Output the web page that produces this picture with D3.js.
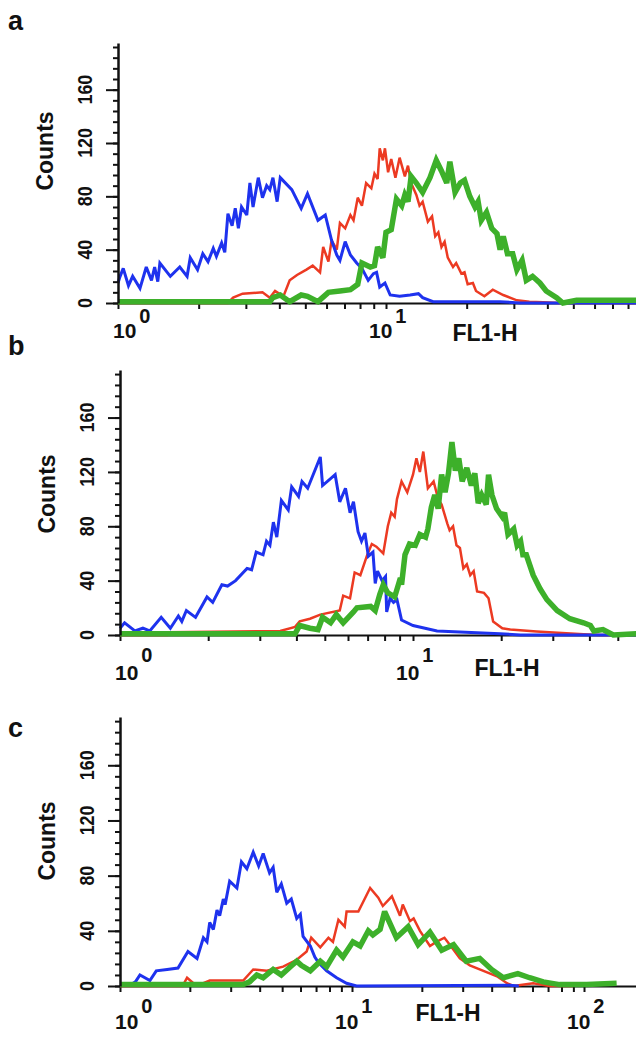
<!DOCTYPE html>
<html lang="en">
<head>
<meta charset="utf-8">
<title>FL1-H histograms</title>
<script src="https://d3js.org/d3.v7.min.js"></script>
<style>
  body { margin: 0; background: #fff; }
  svg text { font-family: "Liberation Sans", Arial, sans-serif; font-weight: bold; fill: #111; }
</style>
</head>
<body>
<svg id="chart"></svg>
<script>
// traces: [channel (256 channels per decade), counts]
var aBlue = [[0,15],[2,20],[5,26],[10,13],[14,20],[21,11],[27,27],[32,17],[35,27],[38,16],[40,30],[50,20],[59,27],[66,20],[69,34],[76,25],[81,37],[86,31],[91,41],[94,35],[99,45],[102,38],[105,67],[109,58],[112,71],[115,56],[118,72],[123,66],[126,90],[129,72],[134,94],[138,79],[142,88],[145,85],[148,94],[152,76],[155,94],[166,85],[175,71],[181,82],[191,62],[198,66],[204,47],[209,36],[212,32],[217,46],[222,36],[228,30],[233,26],[239,17],[244,22],[247,23],[250,12],[255,15],[260,6],[269,5],[279,6],[287,7],[291,4],[301,1],[365,1],[384,0],[495,0]];
var aRed = [[0,0],[105,0],[110,4],[119,7],[138,8],[145,4],[150,9],[158,5],[164,17],[171,21],[180,25],[186,28],[193,23],[196,42],[201,31],[204,47],[209,40],[212,60],[217,56],[222,66],[225,62],[229,79],[233,73],[237,90],[242,86],[245,97],[248,93],[250,116],[253,107],[255,116],[258,98],[261,108],[265,94],[269,109],[274,95],[277,103],[280,90],[285,81],[288,73],[291,76],[296,61],[300,65],[303,50],[306,53],[309,42],[312,46],[315,34],[320,27],[323,30],[328,22],[331,23],[334,14],[339,15],[342,9],[350,5],[358,10],[368,6],[381,2],[393,1],[406,0.5],[422,0],[495,0]];
var aGreen = [[0,1],[145,1],[148,4],[155,6],[164,1],[175,6],[181,5],[191,1],[201,8],[212,9],[222,10],[229,14],[233,30],[241,27],[245,28],[248,42],[253,34],[256,53],[261,55],[266,78],[271,73],[274,81],[277,76],[280,95],[285,90],[291,83],[298,94],[304,107],[309,99],[314,90],[317,106],[322,83],[327,90],[331,92],[336,80],[341,72],[344,76],[347,62],[352,68],[357,56],[362,52],[365,40],[368,50],[372,37],[377,37],[381,25],[386,32],[390,17],[396,20],[403,15],[409,9],[419,4],[425,0],[438,2],[495,2]];

var bBlue = [[0,5],[4,9],[13,3],[20,5],[26,3],[36,13],[44,5],[51,14],[54,10],[58,18],[66,13],[76,28],[81,24],[89,37],[94,36],[101,40],[111,49],[115,48],[119,61],[125,59],[128,69],[131,66],[134,83],[137,72],[141,99],[147,92],[150,109],[156,102],[159,113],[164,108],[175,131],[177,110],[188,118],[192,98],[197,108],[201,90],[204,98],[208,76],[211,69],[214,75],[217,58],[221,61],[223,38],[225,47],[229,40],[232,43],[233,17],[236,27],[239,24],[242,26],[246,11],[256,7],[277,3],[332,1],[350,0],[451,0]];
var bRed = [[0,0],[41,0],[42,2],[140,3],[153,6],[157,10],[166,12],[175,15],[192,18],[195,29],[201,27],[205,46],[210,44],[216,59],[220,67],[224,65],[230,60],[234,80],[237,90],[240,87],[242,100],[246,113],[251,105],[256,118],[259,130],[262,120],[265,135],[269,108],[274,113],[278,100],[281,96],[286,82],[288,77],[291,80],[294,66],[297,64],[300,49],[303,52],[306,44],[309,47],[312,32],[318,31],[322,27],[326,10],[334,5],[341,4],[364,2.5],[405,0.5],[420,0],[451,0]];
var bGreen = [[0,1],[153,1],[157,7],[166,5],[173,4],[177,13],[184,9],[189,15],[195,9],[204,17],[207,20],[219,21],[223,18],[227,30],[230,37],[234,31],[240,28],[245,42],[246,37],[249,59],[253,67],[258,66],[262,74],[267,72],[269,78],[272,94],[275,103],[278,93],[281,118],[284,105],[287,119],[290,142],[293,121],[296,130],[299,113],[303,123],[307,110],[310,119],[313,97],[316,103],[320,96],[322,118],[325,103],[329,93],[334,87],[336,90],[339,74],[344,78],[347,66],[350,69],[352,59],[355,59],[361,44],[367,34],[373,26],[382,18],[393,12],[405,9],[411,7],[414,3],[422,4],[431,0],[451,1]];

var cBlue = [[0,0.5],[11,0.5],[17,3],[22,8],[33,4],[40,11],[52,12],[64,13],[75,25],[85,20],[92,35],[96,32],[99,46],[103,41],[107,55],[110,51],[114,63],[116,59],[121,76],[129,71],[134,90],[140,85],[147,97],[153,87],[158,96],[165,82],[169,86],[173,68],[178,74],[184,60],[189,63],[195,49],[199,52],[202,36],[210,29],[215,21],[219,17],[228,11],[239,6],[250,2],[261,0],[430,0.5],[440,0]];
var cRed = [[0,0],[69,0],[74,6],[81,2],[92,2],[99,4],[136,4],[147,12],[162,11],[180,14],[195,19],[206,25],[211,35],[221,28],[230,35],[235,32],[241,48],[248,43],[250,54],[263,54],[276,71],[285,64],[290,58],[300,65],[309,51],[312,59],[320,47],[324,49],[331,40],[342,29],[349,32],[358,35],[366,28],[375,20],[386,15],[401,11],[416,7],[427,2],[434,0],[456,2],[474,0],[500,0]];
var cGreen = [[0,1],[136,1],[143,3],[151,8],[158,6],[169,12],[178,8],[188,14],[195,18],[200,15],[210,11],[221,18],[228,14],[239,26],[246,21],[257,32],[265,29],[274,40],[279,37],[287,41],[292,54],[305,35],[318,43],[329,30],[342,39],[355,26],[368,30],[382,18],[397,20],[410,12],[423,6],[439,9],[452,6],[467,3],[485,1],[515,1],[548,2]];

var panelNames = ["a","b","c"];
var yMajor = [0,40,80,120,160];
var yTop = 195;
var yMinorStep = 8;

var width = 636, height = 1038;
var colors = {red:"#ec3a22", blue:"#1e32ee", green:"#3db02a"};
var strokes = {red:2.5, blue:3, green:5.5};

// layout of the three stacked panels
var panels = [
	{x0:118, decade:268, top:43,  bottom:303, traces:{red:aRed, blue:aBlue, green:aGreen},
	 letterY:30,  countsY:151, tenDy:35, supDy:20, flX:485, flY:341},
	{x0:120, decade:293, top:370, bottom:635, traces:{red:bRed, blue:bBlue, green:bGreen},
	 letterY:355, countsY:494, tenDy:45, supDy:27, flX:507, flY:676},
	{x0:120, decade:232, top:717, bottom:986, traces:{red:cRed, blue:cBlue, green:cGreen},
	 letterY:737, countsY:841, tenDy:43, supDy:27, flX:448, flY:1021}
];

var svg = d3.select("#chart").attr("width", width).attr("height", height);

panels.forEach(function(p, i) {
	var xMax = Math.pow(10, (width - p.x0) / p.decade);
	var x = d3.scaleLog().domain([1, xMax]).range([p.x0, width]);
	var y = d3.scaleLinear().domain([0, yTop]).range([p.bottom, p.top]);
	var g = svg.append("g");

	// x axis: line plus short tick marks
	var xt = x.ticks().filter(v => v <= xMax);
	g.append("g")
		.attr("transform", "translate(0," + p.bottom + ")")
		.call(d3.axisBottom(x).tickValues(xt).tickFormat("").tickSize(6).tickSizeOuter(0))
		.call(s => s.selectAll("path,line").attr("stroke", "#111").attr("stroke-width", 2));

	// traces
	var line = d3.line()
		.x(d => x(Math.pow(10, d[0] / 256)))
		.y(d => y(d[1]));
	["red","blue","green"].forEach(function(k) {
		g.append("path")
			.datum(p.traces[k])
			.attr("d", line)
			.attr("fill", "none")
			.attr("stroke", colors[k])
			.attr("stroke-width", strokes[k])
			.attr("stroke-linejoin", "miter")
			.attr("stroke-miterlimit", 3);
	});

	// y axis, minor then major ticks
	g.append("g")
		.attr("transform", "translate(" + p.x0 + ",0)")
		.call(d3.axisLeft(y).tickValues(d3.range(0, yTop, yMinorStep)).tickFormat("").tickSize(5).tickSizeOuter(0))
		.call(s => s.selectAll("line").attr("stroke", "#111").attr("stroke-width", 2))
		.call(s => s.select(".domain").attr("stroke", "#111").attr("stroke-width", 2.5));
	g.append("g")
		.attr("transform", "translate(" + p.x0 + ",0)")
		.call(d3.axisLeft(y).tickValues(yMajor).tickFormat("").tickSize(12).tickSizeOuter(0))
		.call(s => s.select(".domain").remove())
		.call(s => s.selectAll("line").attr("stroke", "#111").attr("stroke-width", 2));

	g.selectAll("text.ylab")
		.data(yMajor)
		.enter().append("text")
		.attr("class", "ylab")
		.attr("transform", d => "translate(" + (p.x0 - 26) + "," + y(d) + ") rotate(-90) scale(0.85,1)")
		.attr("text-anchor", "middle")
		.attr("font-size", "21px")
		.text(d => d);

	g.append("text")
		.attr("transform", "translate(" + (p.x0 - 65) + "," + p.countsY + ") rotate(-90)")
		.attr("text-anchor", "middle")
		.attr("font-size", "23px")
		.text("Counts");

	// decade labels 10^n
	var decades = xt.filter(v => Math.abs(Math.log10(v) - Math.round(Math.log10(v))) < 1e-9);
	decades.forEach(function(v) {
		var n = Math.round(Math.log10(v));
		var t = g.append("text")
			.attr("x", n === 0 ? x(v) - 5 : x(v) - 17)
			.attr("y", p.bottom + p.tenDy)
			.attr("font-size", "21px")
			.text("10");
		t.append("tspan")
			.attr("dx", 3)
			.attr("dy", -(p.tenDy - p.supDy))
			.attr("font-size", "20px")
			.text(n);
	});

	g.append("text")
		.attr("x", p.flX)
		.attr("y", p.flY)
		.attr("text-anchor", "middle")
		.attr("font-size", "23px")
		.text("FL1-H");

	g.append("text")
		.attr("x", 8)
		.attr("y", p.letterY)
		.attr("font-size", "27px")
		.text(panelNames[i]);
});
</script>
</body>
</html>
